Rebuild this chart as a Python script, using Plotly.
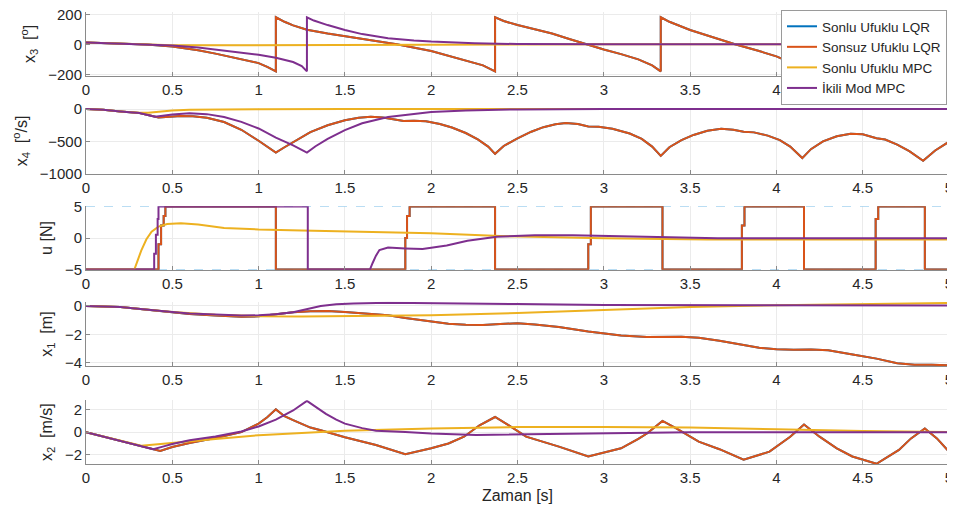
import plotly.graph_objects as go
from plotly.subplots import make_subplots

# ---------------- data ----------------
series_names = ["Sonlu Ufuklu LQR", "Sonsuz Ufuklu LQR", "Sonlu Ufuklu MPC", "İkili Mod MPC"]
series_colors = ["#0072BD", "#D95319", "#EDB120", "#7E2F8E"]

x_tickvals = [0, 0.5, 1, 1.5, 2, 2.5, 3, 3.5, 4, 4.5, 5]
x_ticktext = ["0", "0.5", "1", "1.5", "2", "2.5", "3", "3.5", "4", "4.5", "5"]

# x3 [deg]
t_x3_inf = [0, 0.2, 0.35, 0.5, 0.65, 0.75, 0.9, 1.0, 1.05, 1.1, 1.1, 1.15, 1.2, 1.28, 1.4, 1.5, 1.65, 1.8,
            2.0, 2.2, 2.3, 2.37, 2.37, 2.42, 2.5, 2.6, 2.7, 2.8, 2.88, 3.0, 3.1, 3.2, 3.28, 3.33, 3.33,
            3.38, 3.5, 3.62, 3.76, 3.9, 4.0, 4.08, 4.15, 4.15, 4.2, 4.3, 4.45, 4.55, 4.65, 4.75, 4.85,
            4.85, 4.9, 5.0]
x3_inf = [12, 5, -2, -15, -40, -62, -98, -125, -150, -180, 180, 150, 126, 97, 72, 55, 28, 0,
          -45, -105, -140, -180, 180, 155, 128, 100, 72, 35, 5, -35, -65, -100, -140, -180, 180,
          150, 95, 50, 0, -45, -80, -120, -180, 180, 150, 105, 55, 10, -30, -80, -180,
          180, 150, 110]
t_x3_dual = [0, 0.2, 0.35, 0.5, 0.65, 0.75, 0.9, 1.0, 1.1, 1.2, 1.25, 1.28, 1.28, 1.32, 1.4, 1.5, 1.6,
             1.75, 1.9, 2.0, 2.25, 2.5, 3.0, 5.0]
x3_dual = [12, 5, -1, -8, -22, -35, -55, -70, -90, -118, -145, -180, 180, 158, 128, 95, 68,
           40, 25, 18, 7, 2, 0, 0]
t_x3_mpc = [0, 0.2, 0.35, 0.5, 0.8, 1.2, 1.6, 2.0, 3.0, 5.0]
x3_mpc = [12, 5, -2, -6, -7, -5, -3, -1, 0, 0]

# x4 [deg/s]
t_x4_inf = [0, 0.1, 0.2, 0.31, 0.42, 0.47, 0.55, 0.62, 0.7, 0.8, 0.9, 1.0, 1.05, 1.1, 1.15, 1.2, 1.25,
            1.3, 1.4, 1.5, 1.58, 1.65, 1.72, 1.8, 1.84, 1.9, 1.97, 2.05, 2.12, 2.2, 2.27, 2.33, 2.37,
            2.42, 2.5, 2.58, 2.65, 2.72, 2.78, 2.85, 2.91, 2.97, 3.05, 3.15, 3.22, 3.28, 3.33, 3.38,
            3.45, 3.52, 3.6, 3.68, 3.75, 3.81, 3.87, 3.95, 4.02, 4.08, 4.15, 4.2, 4.27, 4.35, 4.43,
            4.5, 4.58, 4.63, 4.7, 4.77, 4.85, 4.92, 5.0]
x4_inf = [0, -12, -36, -62, -130, -118, -108, -110, -135, -200, -320, -490, -580, -672, -590, -510, -430,
          -355, -250, -173, -135, -118, -130, -165, -185, -182, -190, -230, -285, -370, -470, -580, -692,
          -570, -453, -350, -280, -235, -215, -230, -270, -272, -305, -377, -460, -580, -723, -590,
          -480, -400, -335, -305, -320, -350, -360, -410, -480, -580, -758, -620, -500, -420, -380,
          -390, -450, -470, -550, -650, -799, -640, -504]
t_x4_dual = [0, 0.1, 0.2, 0.31, 0.4, 0.45, 0.5, 0.6, 0.7, 0.8, 0.9, 1.0, 1.1, 1.2, 1.28, 1.33, 1.4, 1.5,
             1.6, 1.75, 1.9, 2.0, 2.2, 2.5, 3.0, 5.0]
x4_dual = [0, -12, -36, -62, -118, -98, -82, -66, -78, -122, -198, -300, -440, -560, -672, -575, -460, -326,
           -220, -122, -70, -46, -20, -5, 0, 0]
t_x4_mpc = [0, 0.1, 0.2, 0.31, 0.36, 0.42, 0.5, 0.6, 0.75, 1.0, 1.5, 5.0]
x4_mpc = [0, -12, -36, -58, -55, -40, -22, -10, -4, -1, 0, 0]

# u [N]  (Sonsuz Ufuklu LQR is piecewise constant: value holds until the next time)
t_u_inf = [0, 0.42, 0.435, 0.45, 0.46, 1.10, 1.85, 1.86, 1.875, 2.37, 2.91, 2.925, 3.34, 3.80, 3.815,
           4.16, 4.575, 4.59, 4.86, 5.0]
u_inf = [-5, -1, 2, 3.5, 5, -5, 0, 3.5, 5, -5, -1, 5, -5, 2, 5, -5, 3, 5, -5, -5]
t_u_dual = [0, 0.395, 0.395, 0.405, 0.405, 0.415, 0.415, 0.42, 0.42, 1.285, 1.285, 1.645, 1.66, 1.68,
            1.70, 1.75, 1.85, 1.95, 2.09, 2.21, 2.38, 2.6, 2.82, 3.06, 3.32, 3.66, 4.15, 5.0]
u_dual = [-5, -5, -2.5, -2.5, 0.5, 0.5, 3, 3, 5, 5, -5, -5, -4, -2.8,
          -1.9, -1.5, -1.65, -1.75, -1.2, -0.45, 0.2, 0.45, 0.45, 0.3, 0.08, -0.03, -0.05, -0.05]
t_u_mpc = [0, 0.28, 0.30, 0.32, 0.35, 0.38, 0.42, 0.47, 0.55, 0.65, 0.8, 1.0, 1.25, 1.5, 2.0, 2.4,
           3.0, 3.6, 4.2, 5.0]
u_mpc = [-5, -5, -3.5, -2.0, -0.2, 1.0, 1.8, 2.2, 2.35, 2.15, 1.6, 1.35, 1.2, 1.05, 0.75, 0.3,
         -0.05, -0.25, -0.3, -0.25]
t_u_lim = [0, 5]
u_max = [5, 5]
u_min = [-5, -5]

# x1 [m]
t_x1_inf = [0, 0.1, 0.2, 0.3, 0.4, 0.5, 0.6, 0.75, 0.9, 1.0, 1.1, 1.2, 1.3, 1.4, 1.5, 1.6, 1.75, 1.85,
            2.0, 2.1, 2.2, 2.3, 2.4, 2.5, 2.6, 2.74, 2.91, 3.0, 3.1, 3.25, 3.35, 3.45, 3.55, 3.67, 3.81,
            3.9, 4.0, 4.1, 4.2, 4.3, 4.45, 4.58, 4.7, 4.8, 4.9, 5.0]
x1_inf = [0, -0.02, -0.08, -0.19, -0.33, -0.45, -0.56, -0.68, -0.76, -0.73, -0.6, -0.44, -0.37, -0.36,
          -0.42, -0.5, -0.66, -0.85, -1.1, -1.25, -1.33, -1.34, -1.28, -1.22, -1.3, -1.48, -1.8, -1.95,
          -2.08, -2.2, -2.18, -2.17, -2.25, -2.45, -2.75, -2.95, -3.05, -3.1, -3.08, -3.13, -3.45,
          -3.72, -4.05, -4.15, -4.16, -4.2]
t_x1_dual = [0, 0.1, 0.2, 0.3, 0.4, 0.5, 0.6, 0.75, 0.9, 1.0, 1.1, 1.2, 1.28, 1.36, 1.45, 1.55, 1.75,
             2.0, 2.5, 3.0, 4.0, 5.0]
x1_dual = [0, -0.02, -0.08, -0.19, -0.33, -0.43, -0.53, -0.63, -0.68, -0.66, -0.58, -0.44, -0.24, 0.0,
           0.12, 0.18, 0.22, 0.21, 0.14, 0.07, 0.04, 0.04]
t_x1_mpc = [0, 0.1, 0.2, 0.33, 0.5, 0.75, 1.0, 1.25, 1.5, 2.0, 2.5, 3.0, 3.5, 4.0, 4.5, 5.0]
x1_mpc = [0, -0.02, -0.08, -0.23, -0.42, -0.62, -0.72, -0.74, -0.73, -0.66, -0.5, -0.27, -0.08, 0.06,
          0.16, 0.22]

# x2 [m/s]
t_x2_inf = [0, 0.43, 0.5, 0.6, 0.75, 0.9, 1.0, 1.05, 1.1, 1.15, 1.2, 1.24, 1.3, 1.36, 1.5, 1.68, 1.85,
            2.0, 2.1, 2.19, 2.28, 2.37, 2.45, 2.55, 2.65, 2.74, 2.91, 3.1, 3.2, 3.25, 3.34, 3.42, 3.55,
            3.67, 3.81, 3.96, 4.08, 4.16, 4.25, 4.35, 4.44, 4.58, 4.71, 4.78, 4.86, 4.93, 5.0]
x2_inf = [0, -1.65, -1.3, -0.95, -0.52, 0.0, 0.75, 1.3, 2.0, 1.4, 1.05, 0.77, 0.4, 0.17, -0.45, -1.13,
          -1.94, -1.42, -1.0, -0.4, 0.6, 1.33, 0.6, -0.4, -0.85, -1.27, -2.14, -1.42, -0.6, -0.12, 0.98,
          0.32, -0.84, -1.5, -2.43, -1.71, -0.4, 0.67, -0.4, -1.42, -2.14, -2.78, -1.56, -0.55, 0.32,
          -0.55, -1.71]
t_x2_dual = [0, 0.39, 0.45, 0.5, 0.6, 0.75, 0.9, 1.0, 1.1, 1.2, 1.28, 1.33, 1.39, 1.45, 1.5, 1.6, 1.68,
             1.85, 2.0, 2.26, 2.5, 3.0, 3.5, 5.0]
x2_dual = [0, -1.5, -1.25, -1.04, -0.72, -0.38, 0.05, 0.5, 1.1, 1.9, 2.75, 2.2, 1.6, 1.1, 0.75, 0.35, 0.12,
           0.02, -0.12, -0.25, -0.2, -0.06, 0, 0]
t_x2_mpc = [0, 0.32, 0.4, 0.5, 0.75, 1.0, 1.25, 1.5, 2.0, 2.5, 3.0, 3.5, 4.0, 4.5, 5.0]
x2_mpc = [0, -1.2, -1.08, -0.93, -0.6, -0.27, -0.08, 0.12, 0.32, 0.45, 0.46, 0.4, 0.26, 0.09, 0.0]

# ---------------- figure ----------------
fig = make_subplots(rows=5, cols=1)

panels = [
    (1, [(t_x3_inf, x3_inf), (t_x3_inf, x3_inf), (t_x3_mpc, x3_mpc), (t_x3_dual, x3_dual)],
     "x<sub>3</sub>\u00a0 [<sup>o</sup>]", [-209, 215], [-200, 0, 200]),
    (2, [(t_x4_inf, x4_inf), (t_x4_inf, x4_inf), (t_x4_mpc, x4_mpc), (t_x4_dual, x4_dual)],
     "x<sub>4</sub>\u00a0 [<sup>o</sup>/s]", [-1008, 23], [-1000, -500, 0]),
    (3, [(t_u_inf, u_inf), (t_u_inf, u_inf), (t_u_mpc, u_mpc), (t_u_dual, u_dual)],
     "u [N]", [-5.05, 5.05], [-5, 0, 5]),
    (4, [(t_x1_inf, x1_inf), (t_x1_inf, x1_inf), (t_x1_mpc, x1_mpc), (t_x1_dual, x1_dual)],
     "x<sub>1</sub>\u00a0 [m]", [-4.27, 0.3], [-4, -2, 0]),
    (5, [(t_x2_inf, x2_inf), (t_x2_inf, x2_inf), (t_x2_mpc, x2_mpc), (t_x2_dual, x2_dual)],
     "x<sub>2</sub>\u00a0 [m/s]", [-2.8, 2.8], [-2, 0, 2]),
]

# plot-area fractions (plot area spans 454 px vertically)
y_domains = [[0.8590, 1.0], [0.6410, 0.7885], [0.4295, 0.5705], [0.2159, 0.3590], [0.0, 0.1410]]

FONT = "Arial, Liberation Sans, sans-serif"
tick_font = dict(family=FONT, size=15, color="#262626")
title_font = dict(family=FONT, size=16, color="#262626")

for row, data, ytitle, yrange, ytv in panels:
    if row == 3:
        for lim in (u_max, u_min):
            fig.add_trace(go.Scatter(x=t_u_lim, y=lim, mode="lines", showlegend=False,
                                     line=dict(color="#9fd0ee", width=1, dash="dash"),
                                     hoverinfo="skip"), row=3, col=1)
    for k, (tt, yy) in enumerate(data):
        shape = "hv" if (row == 3 and k in (0, 1)) else "linear"
        fig.add_trace(go.Scatter(x=tt, y=yy, mode="lines", name=series_names[k],
                                 showlegend=(row == 1),
                                 line=dict(color=series_colors[k], width=2, shape=shape)),
                      row=row, col=1)
    ax = "" if row == 1 else str(row)
    fig.layout["xaxis" + ax].update(
        range=[0, 5], tickvals=x_tickvals, ticktext=x_ticktext, domain=[0, 1],
        showgrid=True, gridcolor="#ebebeb", gridwidth=1, zeroline=False,
        showline=True, linecolor="#8a8a8a", linewidth=1, mirror=False,
        ticks="inside", ticklen=4, tickcolor="#8a8a8a", tickfont=tick_font, automargin=False,
        ticklabeloverflow="allow")
    fig.layout["yaxis" + ax].update(
        range=yrange, tickvals=ytv, domain=y_domains[row - 1],
        showgrid=True, gridcolor="#ebebeb", gridwidth=1, zeroline=False,
        showline=True, linecolor="#8a8a8a", linewidth=1, mirror=False,
        ticks="inside", ticklen=4, tickcolor="#8a8a8a", tickfont=tick_font, automargin=False,
        ticklabeloverflow="allow",
        title=dict(text=ytitle, font=title_font, standoff=8))

fig.layout.xaxis5.update(title=dict(text="Zaman [s]", standoff=4, font=title_font))

# the page body adds an 8 px offset, so the figure is 8 px smaller and margins shifted
fig.update_layout(
    width=947, height=505,
    margin=dict(l=78, r=6, t=2, b=49),
    paper_bgcolor="white", plot_bgcolor="white",
    showlegend=True,
    legend=dict(x=1 - 2 / 863, y=1 + 2 / 454, xanchor="right", yanchor="top",
                bgcolor="white", bordercolor="#9a9a9a", borderwidth=1,
                font=dict(family=FONT, size=13.5, color="#262626"),
                itemwidth=30, tracegroupgap=0),
)

fig.write_html("out.html")
